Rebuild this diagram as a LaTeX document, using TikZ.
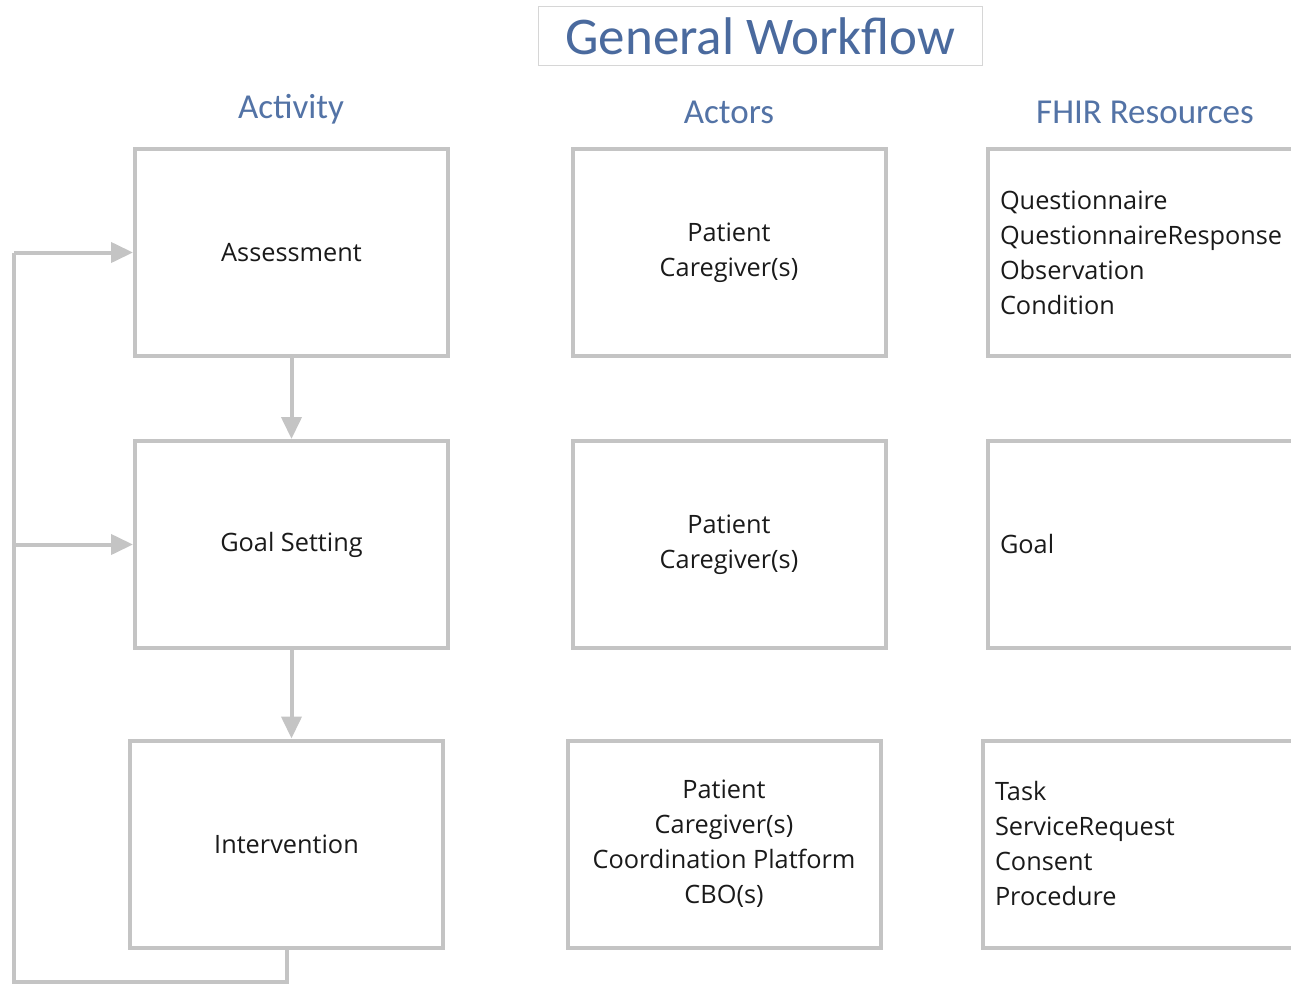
\documentclass[tikz,border=0pt]{standalone}
\usepackage{fontspec}
\setmainfont{Carlito}
\newfontfamily\boxfont{Open Sans}
\usetikzlibrary{arrows.meta}
\definecolor{boxgray}{HTML}{C4C4C4}
\definecolor{titleblue}{HTML}{4A6A9E}
\definecolor{headblue}{HTML}{5373A6}
\definecolor{txt}{HTML}{1A1A1A}
\tikzset{
  wbox/.style={draw=boxgray, line width=4pt, minimum width=313pt, minimum height=207pt, inner sep=0pt, align=center, font=\boxfont\fontsize{25.3}{35}\selectfont, text=txt},
  rbox/.style={draw=boxgray, line width=4pt, minimum width=400pt, minimum height=207pt, inner sep=12pt, text width=376pt, align=left, font=\boxfont\fontsize{25.3}{35}\selectfont, text=txt},
  head/.style={font=\fontsize{35}{40}\selectfont, text=headblue},
  flow/.style={draw=boxgray, line width=4pt, -{Triangle[length=22pt,width=20pt]}},
  loopline/.style={draw=boxgray, line width=4pt}
}
\begin{document}
\begin{tikzpicture}[x=1pt,y=-1pt]
\useasboundingbox (0,0) rectangle (1291,985);
\clip (0,0) rectangle (1291,985);
\fill[white] (0,0) rectangle (1291,985);
\node[draw=boxgray!70, line width=1.5pt, minimum width=444pt, minimum height=59pt, inner sep=0pt, font=\fontsize{53}{58}\selectfont, text=titleblue] (title) at (760.5,36) {General Workflow};
\node[head] (hact) at (291,109) {Activity};
\node[head] (hactors) at (729,112) {Actors};
\node[head] (hfhir) at (1145,112) {FHIR Resources};
\node[wbox] (assess) at (291.5,252.5) {Assessment};
\node[wbox] (goal) at (291.5,544.5) {Goal Setting};
\node[wbox] (interv) at (286.5,844) {Intervention};
\node[wbox] (act1) at (729,252.5) {Patient\\Caregiver(s)};
\node[wbox] (act2) at (729,544.5) {Patient\\Caregiver(s)};
\node[wbox] (act3) at (724,844) {Patient\\Caregiver(s)\\Coordination Platform\\CBO(s)};
\node[rbox] (res1) at (1188,252.5) {Questionnaire\\QuestionnaireResponse\\Observation\\Condition};
\node[rbox] (res2) at (1188,544.5) {Goal};
\node[rbox] (res3) at (1183,844) {Task\\ServiceRequest\\Consent\\Procedure};
\coordinate (lb) at (14,982);
\coordinate (lt) at (14,252.5);
\coordinate (lm) at (14,544.5);
\draw[flow] (assess.south) -- (goal.north);
\draw[flow] (goal.south) -- (goal.south |- interv.north);
\draw[loopline] (interv.south) -- (interv.south |- lb) -- (lb) -- (lt);
\draw[flow] (lt) -- (assess.west);
\draw[flow] (lm) -- (goal.west);
\end{tikzpicture}
\end{document}
